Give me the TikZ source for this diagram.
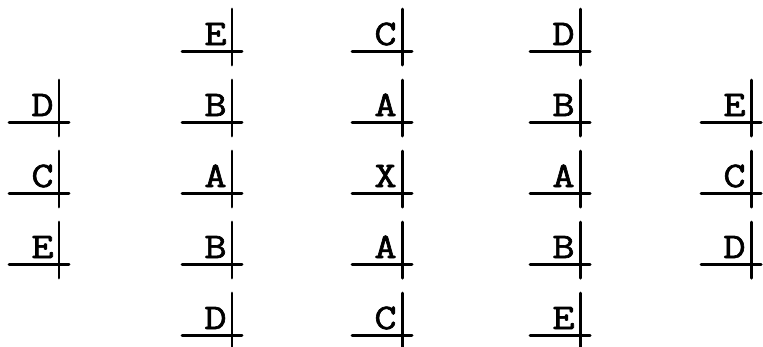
\documentclass[tikz,border=0pt]{standalone}
\usepackage{fontspec}
\newfontfamily\typefont{Latin Modern Mono}[FakeBold=1.8, FakeStretch=1.2]
\usepackage{tikz}
\tikzset{
  letr/.style={font=\typefont\fontsize{20.5}{20.5}\selectfont, inner sep=0pt,
               anchor=base east},
  rule/.style={line width=1.7pt, line cap=round},
}
\begin{document}
\begin{tikzpicture}[x=0.02cm, y=-0.02cm]
    \useasboundingbox (0,0) rectangle (763,346);
    % column number / x of the bar / first row / letters
    \foreach \cn/\vx/\first/\letters in {1/59/1/{D,C,E}, 2/232/0/{E,B,A,B,D},
        3/402/0/{C,A,X,A,C}, 4/580/0/{D,B,A,B,E}, 5/751/1/{E,C,D}}{
      \foreach \l [count=\rn from \first] in \letters {
        \coordinate (k\cn\rn) at (\vx,51+71*\rn);
        \node[letr] (n\cn\rn) at ([shift={(-5,-6)}]k\cn\rn) {\l};
        \draw[rule] ([shift={(-50,0)}]k\cn\rn) -- ([shift={(10,0)}]k\cn\rn);
        \draw[rule] ([shift={(0,-42)}]k\cn\rn) -- ([shift={(0,14)}]k\cn\rn);
      }
    }
\end{tikzpicture}
\end{document}
